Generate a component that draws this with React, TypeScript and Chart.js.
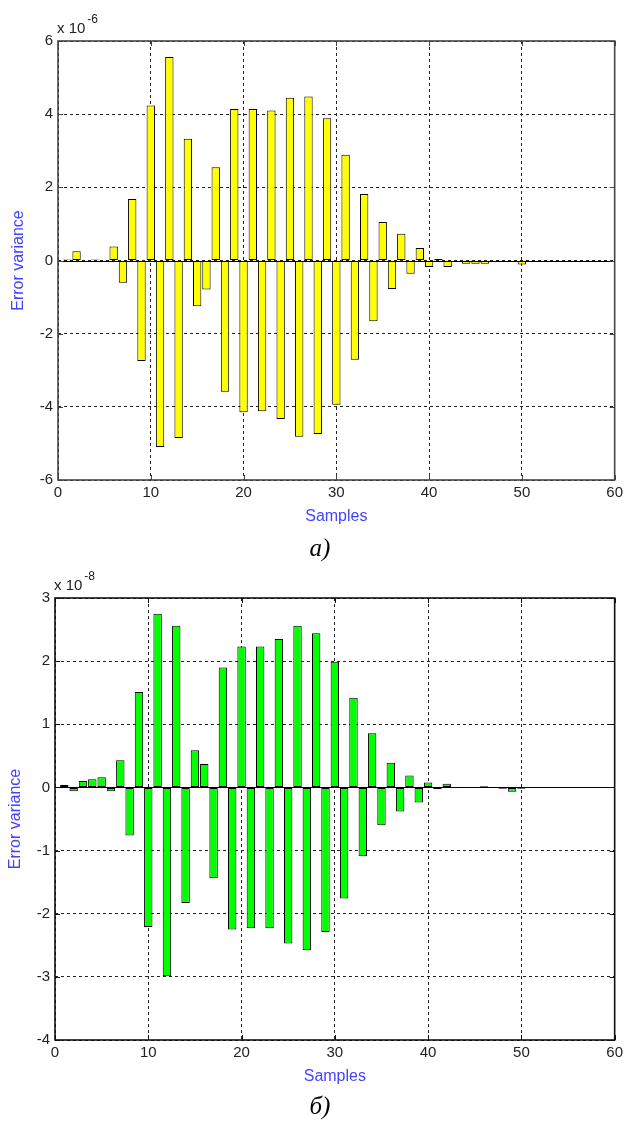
import React, { useEffect, useRef } from "react";
import { Chart, registerables } from "chart.js";
Chart.register(...registerables);

// Sample indices (x axis)
const samples = [
  1, 2, 3, 4, 5, 6, 7, 8, 9, 10,
  11, 12, 13, 14, 15, 16, 17, 18, 19, 20,
  21, 22, 23, 24, 25, 26, 27, 28, 29, 30,
  31, 32, 33, 34, 35, 36, 37, 38, 39, 40,
  41, 42, 43, 44, 45, 46, 47, 48, 49, 50,
];

// Panel a) error variance, units of 1e-6
const errorA = [
  0.03, 0.25, 0, 0.03, -0.04, 0.38, -0.61, 1.68, -2.75, 4.24,
  -5.1, 5.56, -4.85, 3.33, -1.25, -0.79, 2.55, -3.59, 4.14, -4.15,
  4.14, -4.12, 4.1, -4.33, 4.45, -4.82, 4.48, -4.74, 3.89, -3.94,
  2.89, -2.71, 1.82, -1.66, 1.05, -0.78, 0.73, -0.36, 0.34, -0.18,
  0.04, -0.18, -0.03, -0.09, -0.09, -0.09, -0.04, -0.03, 0, -0.11,
];

// Panel б) error variance, units of 1e-8
const errorB = [
  0.04, -0.06, 0.1, 0.13, 0.16, -0.06, 0.43, -0.76, 1.51, -2.21,
  2.75, -2.99, 2.56, -1.83, 0.59, 0.37, -1.44, 1.9, -2.25, 2.23,
  -2.23, 2.23, -2.23, 2.35, -2.47, 2.56, -2.58, 2.44, -2.29, 1.99,
  -1.76, 1.42, -1.09, 0.86, -0.6, 0.39, -0.38, 0.19, -0.24, 0.08,
  -0.03, 0.06, 0, 0, 0, 0.02, 0, -0.02, -0.07, -0.02,
];

const xTickValues = [0, 10, 20, 30, 40, 50, 60];
const yTicksA = [-6, -4, -2, 0, 2, 4, 6];
const yTicksB = [-4, -3, -2, -1, 0, 1, 2, 3];

const X_TITLE = "Samples";
const Y_TITLE = "Error variance";
const CAPTION_A = "а)";
const CAPTION_B = "б)";

const SANS = '"Liberation Sans", Arial, sans-serif';
const BLUE = "#4343ff";
const TEXT = "#222";

type PanelProps = {
  values: number[];
  yTicks: number[];
  exponent: string;
  color: string;
  frameColor: string;
  height: number;
  padTop: number;
  padRight: number;
  padBottom: number;
  yWidth: number;
  yTitleOffset: number;
};

function makePlugin(p: PanelProps) {
  return {
    id: "matlabFrame",
    afterDatasetsDraw(chart: any) {
      const { ctx, chartArea: a, scales } = chart;
      const xs = scales.x;
      const ys = scales.y;
      ctx.save();
      // baseline at zero
      const y0 = Math.round(ys.getPixelForValue(0)) + 0.5;
      ctx.setLineDash([]);
      ctx.strokeStyle = "#000";
      ctx.lineWidth = 1;
      ctx.beginPath();
      ctx.moveTo(a.left, y0);
      ctx.lineTo(a.right, y0);
      ctx.stroke();
      // inward ticks
      ctx.strokeStyle = p.frameColor;
      const tl = 5;
      for (const t of xs.ticks) {
        const px = Math.round(xs.getPixelForValue(t.value)) + 0.5;
        ctx.beginPath();
        ctx.moveTo(px, a.bottom);
        ctx.lineTo(px, a.bottom - tl);
        ctx.moveTo(px, a.top);
        ctx.lineTo(px, a.top + tl);
        ctx.stroke();
      }
      for (const t of ys.ticks) {
        const py = Math.round(ys.getPixelForValue(t.value)) + 0.5;
        ctx.beginPath();
        ctx.moveTo(a.left, py);
        ctx.lineTo(a.left + tl, py);
        ctx.moveTo(a.right, py);
        ctx.lineTo(a.right - tl, py);
        ctx.stroke();
      }
      // frame
      ctx.lineWidth = 1.6;
      ctx.strokeRect(a.left, a.top, a.right - a.left, a.bottom - a.top);
      // axis titles
      ctx.fillStyle = BLUE;
      ctx.font = `16px ${SANS}`;
      ctx.textAlign = "center";
      ctx.textBaseline = "middle";
      ctx.fillText(X_TITLE, (a.left + a.right) / 2, a.bottom + 36.5);
      ctx.save();
      ctx.translate(a.left - p.yTitleOffset, (a.top + a.bottom) / 2);
      ctx.rotate(-Math.PI / 2);
      ctx.fillText(Y_TITLE, 0, 0);
      ctx.restore();
      // exponent label
      ctx.fillStyle = TEXT;
      ctx.textAlign = "left";
      ctx.textBaseline = "alphabetic";
      ctx.font = `15px ${SANS}`;
      const base = "x 10";
      ctx.fillText(base, a.left - 1, a.top - 8);
      const w = ctx.measureText(base).width;
      ctx.font = `12px ${SANS}`;
      ctx.fillText(p.exponent, a.left - 1 + w + 2, a.top - 18);
      ctx.restore();
    },
  };
}

function Panel(p: PanelProps) {
  const ref = useRef<HTMLCanvasElement | null>(null);
  useEffect(() => {
    if (!ref.current) return;
    const chart = new Chart(ref.current, {
      type: "bar",
      data: {
        datasets: [
          {
            data: samples.map((s, i) => ({ x: s, y: p.values[i] })),
            backgroundColor: p.color,
            borderColor: "#000",
            borderWidth: 1,
            borderSkipped: false,
            barPercentage: 0.9,
            categoryPercentage: 1,
          } as any,
        ],
      },
      options: {
        animation: false,
        responsive: false,
        devicePixelRatio: 1,
        layout: {
          padding: { left: 0, right: p.padRight, top: p.padTop, bottom: p.padBottom },
        },
        plugins: { legend: { display: false }, tooltip: { enabled: false } },
        scales: {
          x: {
            type: "linear",
            min: 0,
            max: 60,
            offset: false,
            afterBuildTicks: (s: any) => {
              s.ticks = xTickValues.map((v) => ({ value: v }));
            },
            afterFit: (s: any) => {
              s.height = 30;
            },
            grid: {
              offset: false,
              color: "#222",
              lineWidth: 1,
              drawTicks: false,
              tickLength: 0,
            },
            border: { display: false, dash: [3, 3] },
            ticks: {
              color: TEXT,
              font: { family: SANS, size: 15 },
              padding: 4,
              maxRotation: 0,
              autoSkip: false,
            },
          },
          y: {
            type: "linear",
            min: p.yTicks[0],
            max: p.yTicks[p.yTicks.length - 1],
            afterBuildTicks: (s: any) => {
              s.ticks = p.yTicks.map((v) => ({ value: v }));
            },
            afterFit: (s: any) => {
              s.width = p.yWidth;
            },
            grid: {
              color: "#222",
              lineWidth: 1,
              drawTicks: false,
              tickLength: 0,
            },
            border: { display: false, dash: [3, 3] },
            ticks: {
              color: TEXT,
              font: { family: SANS, size: 15 },
              padding: 5,
              autoSkip: false,
            },
          },
        },
      } as any,
      plugins: [makePlugin(p) as any],
    });
    return () => chart.destroy();
  }, []);
  return (
    <canvas
      ref={ref}
      width={627}
      height={p.height}
      style={{ display: "block", width: 627, height: p.height }}
    />
  );
}

const captionStyle: React.CSSProperties = {
  position: "absolute",
  left: 0,
  width: 640,
  textAlign: "center",
  fontFamily: '"Liberation Serif", "Times New Roman", serif',
  fontStyle: "italic",
  fontSize: 25,
  lineHeight: "25px",
  color: "#000",
};

export default function App() {
  return (
    <div
      style={{
        position: "absolute",
        left: 0,
        top: 0,
        width: 627,
        height: 1121,
        background: "#fff",
        overflow: "hidden",
      }}
    >
      <div style={{ position: "absolute", left: 0, top: 0 }}>
        <Panel
          values={errorA}
          yTicks={yTicksA}
          exponent="-6"
          color="#ffff00"
          frameColor="#444"
          height={560}
          padTop={41}
          padRight={10}
          padBottom={50}
          yWidth={58}
          yTitleOffset={39}
        />
      </div>
      <div style={{ position: "absolute", left: 0, top: 560 }}>
        <Panel
          values={errorB}
          yTicks={yTicksB}
          exponent="-8"
          color="#00ff00"
          frameColor="#111"
          height={561}
          padTop={38}
          padRight={11}
          padBottom={51}
          yWidth={55}
          yTitleOffset={39}
        />
      </div>
      <div style={{ ...captionStyle, top: 535 }}>{CAPTION_A}</div>
      <div style={{ ...captionStyle, top: 1093 }}>{CAPTION_B}</div>
    </div>
  );
}
